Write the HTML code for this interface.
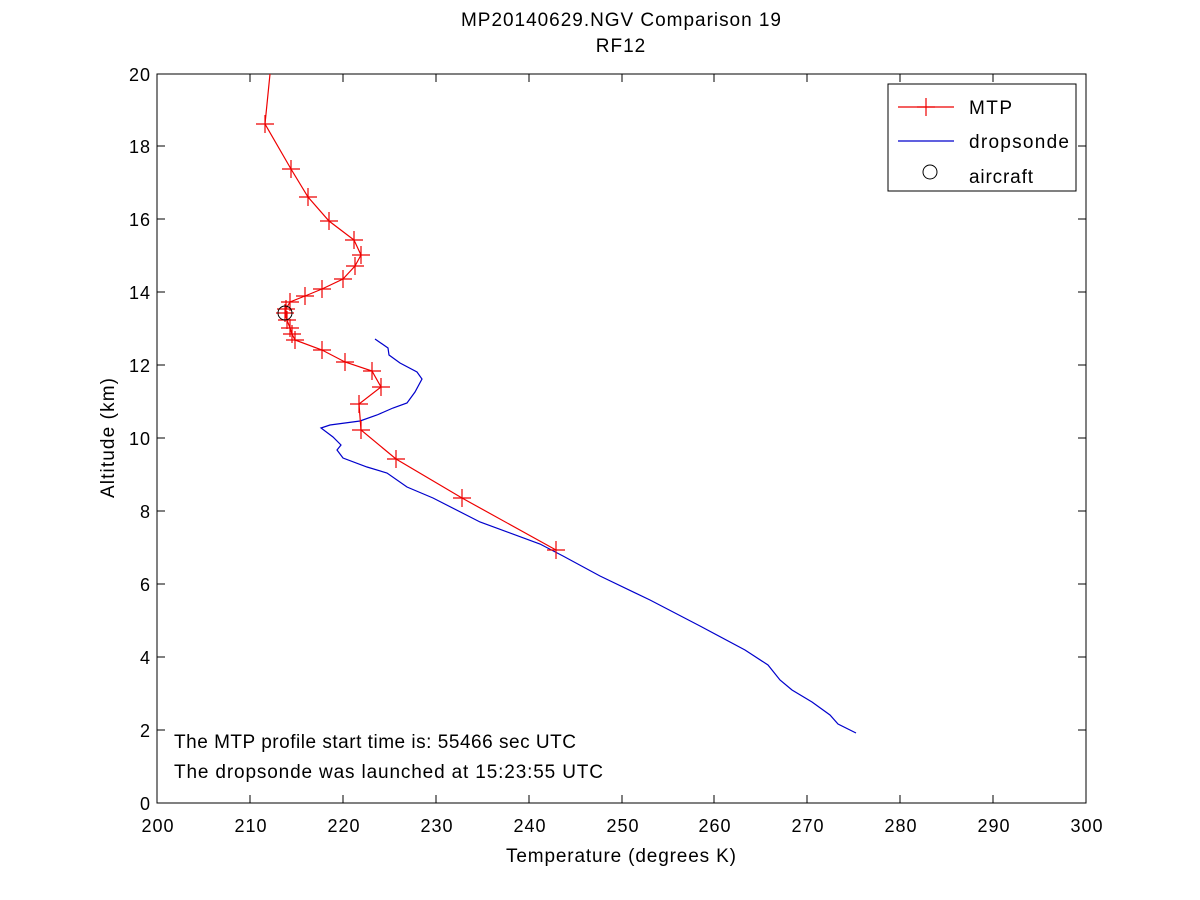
<!DOCTYPE html>
<html><head><style>body{margin:0;background:#fff}svg{display:block}text{font-family:"Liberation Sans",sans-serif;fill:#000}</style></head><body>
<svg width="1200" height="900" xmlns="http://www.w3.org/2000/svg">
<defs><g id="p"><path d="M-9 0H9M0 -9V9" stroke="#e00" stroke-width="1.2"/></g></defs>
<rect x="157" y="74" width="929" height="729" fill="#fff" stroke="#000"/>
<g stroke="#000">
<path d="M157 730h8M157 657h8M157 584h8M157 511h8M157 438h8M157 365h8M157 292h8M157 219h8M157 146h8M1086 730h-8M1086 657h-8M1086 584h-8M1086 511h-8M1086 438h-8M1086 365h-8M1086 292h-8M1086 219h-8M1086 146h-8"/>
<path d="M250 803v-8M343 803v-8M436 803v-8M529 803v-8M622 803v-8M714 803v-8M807 803v-8M900 803v-8M993 803v-8M250 74v8M343 74v8M436 74v8M529 74v8M622 74v8M714 74v8M807 74v8M900 74v8M993 74v8"/>
</g>
<g font-size="18" text-anchor="end" letter-spacing="1">
<text x="151" y="810">0</text><text x="151" y="737">2</text><text x="151" y="664">4</text><text x="151" y="591">6</text><text x="151" y="518">8</text><text x="151" y="445">10</text><text x="151" y="372">12</text><text x="151" y="299">14</text><text x="151" y="226">16</text><text x="151" y="153">18</text><text x="151" y="81">20</text>
</g>
<g font-size="18" text-anchor="middle" letter-spacing="1">
<text x="158" y="832">200</text><text x="251" y="832">210</text><text x="344" y="832">220</text><text x="437" y="832">230</text><text x="530" y="832">240</text><text x="623" y="832">250</text><text x="715" y="832">260</text><text x="808" y="832">270</text><text x="901" y="832">280</text><text x="994" y="832">290</text><text x="1087" y="832">300</text>
</g>
<g font-size="19">
<text x="506" y="862" textLength="230">Temperature (degrees K)</text>
<text x="461" y="26" textLength="320">MP20140629.NGV Comparison 19</text>
<text x="621" y="52" text-anchor="middle" letter-spacing="1">RF12</text>
<text transform="translate(114,498) rotate(-90)" textLength="120">Altitude (km)</text>
<text x="174" y="748" textLength="402">The MTP profile start time is: 55466 sec UTC</text>
<text x="174" y="778" textLength="429">The dropsonde was launched at 15:23:55 UTC</text>
</g>
<polyline fill="none" stroke="#00c" stroke-width="1.2" points="375,339 388,348 389,355 400,363 417,372 422,379 415,392 407,403 393,408 377,415 360,421 330,425 321,428 333,437 341,445 337,450 343,458 367,467 387,473 407,487 433,498 480,522 540,544 563,556 600,576 650,600 700,626 745,650 768,665 780,680 792,690 812,702 830,715 838,724 856,733"/>
<polyline fill="none" stroke="#e00" stroke-width="1.2" points="270,74 265,124 291,169 308,197 329,221 354,240 361,255 355,266 343,279 322,289 305,296 290,302 286,309 285,313 287,320 290,328 292,334 295,340 322,350 345,362 372,371 381,387 359,404 361,430 396,459 462,498 556,550"/>
<g>
<use href="#p" x="265" y="124"/><use href="#p" x="291" y="169"/><use href="#p" x="308" y="197"/><use href="#p" x="329" y="221"/><use href="#p" x="354" y="240"/><use href="#p" x="361" y="255"/><use href="#p" x="355" y="266"/><use href="#p" x="343" y="279"/><use href="#p" x="322" y="289"/><use href="#p" x="305" y="296"/><use href="#p" x="290" y="302"/><use href="#p" x="286" y="309"/><use href="#p" x="285" y="313"/><use href="#p" x="287" y="320"/><use href="#p" x="290" y="328"/><use href="#p" x="292" y="334"/><use href="#p" x="295" y="340"/><use href="#p" x="322" y="350"/><use href="#p" x="345" y="362"/><use href="#p" x="372" y="371"/><use href="#p" x="381" y="387"/><use href="#p" x="359" y="404"/><use href="#p" x="361" y="430"/><use href="#p" x="396" y="459"/><use href="#p" x="462" y="498"/><use href="#p" x="556" y="550"/>
</g>
<circle cx="285" cy="313" r="7" fill="none" stroke="#000"/>
<rect x="888" y="84" width="188" height="107" fill="#fff" stroke="#000"/>
<path d="M898 107h56" stroke="#e00" stroke-width="1.2"/><use href="#p" x="926" y="107"/>
<path d="M898 141h56" stroke="#00c" stroke-width="1.2"/>
<circle cx="930" cy="172" r="7" fill="none" stroke="#000"/>
<g font-size="19"><text x="969" y="114" textLength="43">MTP</text><text x="969" y="148" textLength="100">dropsonde</text><text x="969" y="183" textLength="64">aircraft</text></g>
</svg>
</body></html>
